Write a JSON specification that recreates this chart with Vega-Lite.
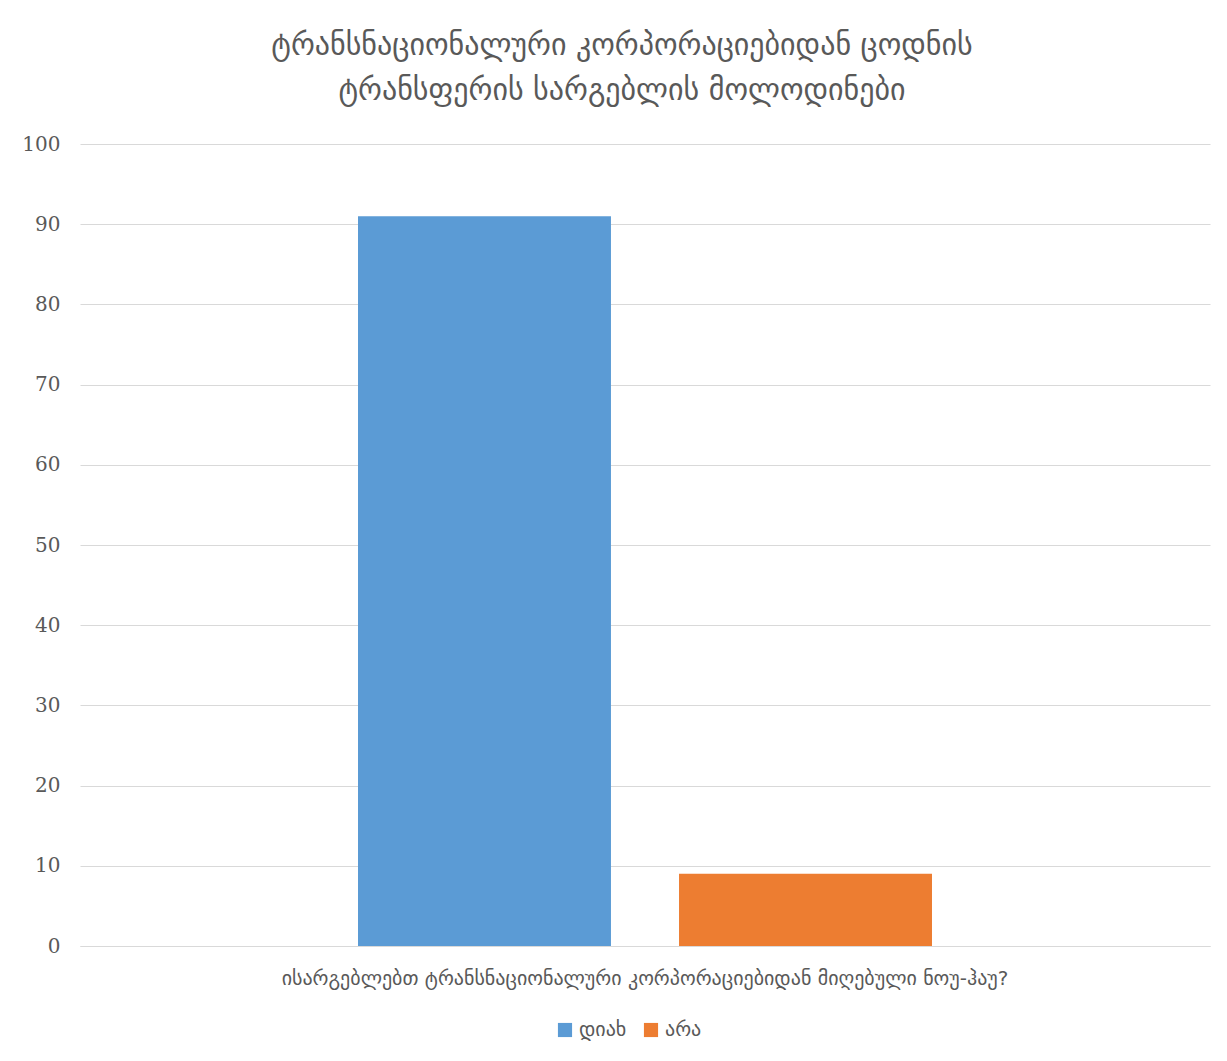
{
  "$schema": "https://vega.github.io/schema/vega-lite/v6.json",
  "autosize": {"type": "none"},
  "width": 1130,
  "height": 802,
  "padding": {"left": 80, "top": 144, "right": 17, "bottom": 115},
  "background": "white",
  "title": {
    "text": ["ტრანსნაციონალური კორპორაციებიდან ცოდნის", "ტრანსფერის სარგებლის მოლოდინები"],
    "anchor": "middle",
    "dx": -23,
    "offset": 28,
    "font": "DejaVu Sans",
    "fontSize": 30,
    "fontWeight": "normal",
    "lineHeight": 45,
    "color": "#595959"
  },
  "data": {
    "values": [
      {"question": "ისარგებლებთ ტრანსნაციონალური კორპორაციებიდან მიღებული ნოუ-ჰაუ?", "answer": "დიახ", "value": 91},
      {"question": "ისარგებლებთ ტრანსნაციონალური კორპორაციებიდან მიღებული ნოუ-ჰაუ?", "answer": "არა", "value": 9}
    ]
  },
  "mark": {"type": "bar"},
  "encoding": {
    "x": {
      "field": "question",
      "type": "nominal",
      "scale": {"paddingOuter": 0.38, "paddingInner": 0},
      "axis": {"title": null, "labelAngle": 0, "labelFontSize": 20, "labelColor": "#595959", "labelFont": "DejaVu Sans", "labelPadding": 22, "ticks": false, "domainColor": "#D9D9D9", "labelLimit": 1200}
    },
    "xOffset": {
      "field": "answer",
      "type": "nominal",
      "sort": ["დიახ", "არა"],
      "scale": {"paddingInner": 0.212, "paddingOuter": 0.106}
    },
    "y": {
      "field": "value",
      "type": "quantitative",
      "scale": {"domain": [0, 100]},
      "axis": {"title": null, "values": [0,10,20,30,40,50,60,70,80,90,100], "domain": false, "ticks": false, "labelPadding": 20, "labelFontSize": 20, "labelColor": "#595959", "labelFont": "DejaVu Serif", "gridColor": "#D9D9D9"}
    },
    "color": {
      "field": "answer",
      "type": "nominal",
      "sort": ["დიახ", "არა"],
      "scale": {"domain": ["დიახ", "არა"], "range": ["#5B9BD5", "#ED7D31"]},
      "legend": {"title": null, "orient": "none", "legendX": 475, "legendY": 876, "direction": "horizontal", "symbolType": "square", "symbolSize": 200, "symbolStrokeWidth": 0, "labelFontSize": 20, "labelColor": "#595959", "labelFont": "DejaVu Sans", "columnPadding": 14}
    }
  },
  "config": {"view": {"stroke": null}}
}
